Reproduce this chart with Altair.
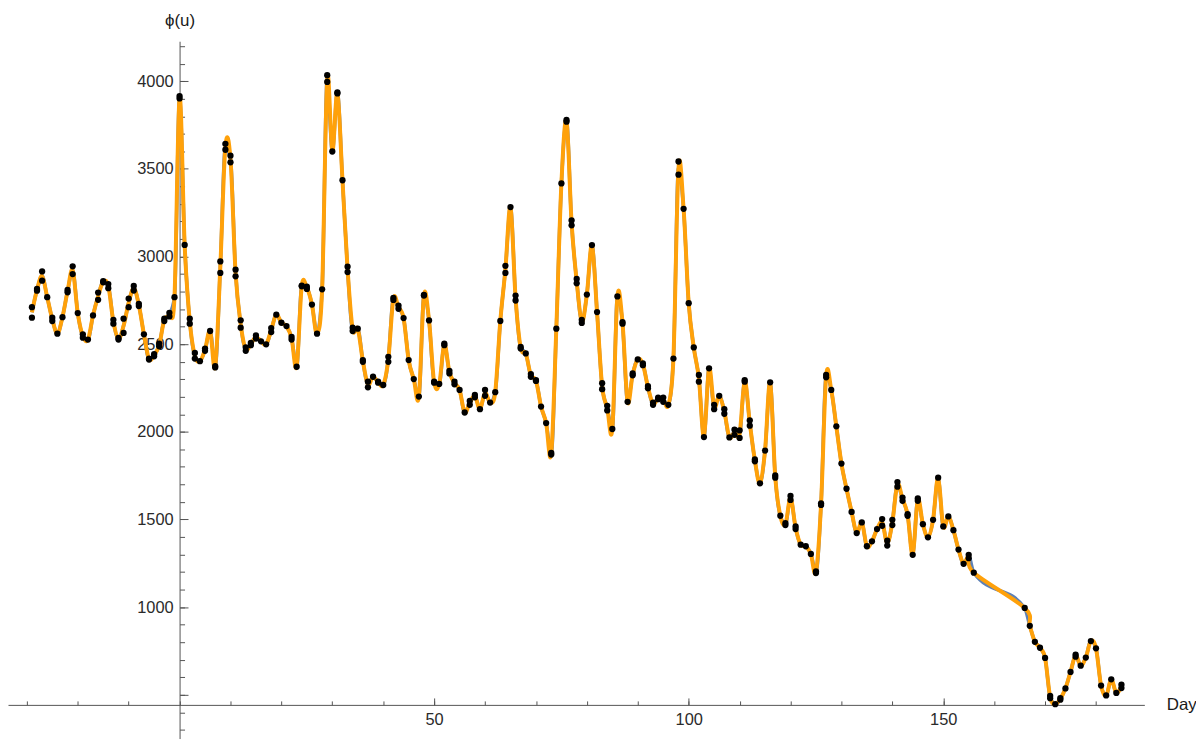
import altair as alt
import pandas as pd

day_list = [
    -29, -29, -28, -28, -27, -27, -26, -25, -25, -24, -23, -22, -22, -21, -21, -20,
    -19, -19, -18, -17, -16, -16, -15, -15, -14, -14, -13, -13, -12, -12, -11, -11,
    -10, -10, -9, -9, -8, -8, -7, -6, -6, -5, -5, -4, -4, -3, -3, -2, -2, -1,
    0, 0, 1, 2, 2, 3, 3, 4, 5, 5, 6, 7, 7, 8, 8, 9, 9, 10, 10, 11, 11, 12, 12,
    13, 13, 14, 14, 15, 15, 16, 17, 18, 18, 19, 20, 21, 22, 22, 23, 24, 24, 25, 25,
    26, 27, 28, 29, 29, 30, 31, 31, 32, 33, 33, 34, 34, 35, 36, 36, 37, 37, 38,
    39, 39, 40, 41, 41, 42, 42, 43, 43, 44, 45, 46, 47, 48, 48, 49, 50, 50, 51,
    52, 52, 53, 53, 54, 54, 55, 56, 57, 57, 58, 58, 59, 60, 60, 61, 62, 63, 64, 64,
    65, 66, 66, 67, 67, 68, 69, 69, 70, 70, 71, 72, 73, 73, 74, 75, 76, 76, 77, 77,
    78, 78, 79, 79, 80, 81, 82, 83, 83, 84, 84, 85, 86, 87, 87, 88, 89, 89, 90,
    91, 91, 92, 92, 93, 93, 94, 94, 95, 95, 96, 97, 98, 98, 99, 100, 101, 102, 102,
    103, 104, 105, 105, 106, 107, 107, 108, 109, 109, 110, 110, 111, 111, 112, 112,
    113, 113, 114, 115, 116, 117, 117, 118, 119, 119, 120, 120, 121, 121, 122, 123,
    124, 125, 125, 126, 126, 127, 127, 128, 129, 130, 131, 132, 133, 134, 135, 136,
    137, 138, 138, 139, 139, 140, 140, 141, 141, 142, 142, 143, 143, 144, 145, 145,
    146, 147, 148, 149, 150, 151, 152, 153, 154, 155, 155, 156,
    166, 167, 168, 169, 170, 171, 171, 172, 173, 173, 174, 175, 176, 176, 177, 178,
    179, 180, 181, 182, 183, 184, 185, 185,
]
value_list = [
    2711, 2651, 2805, 2815, 2915, 2862, 2768, 2651, 2632, 2560, 2654, 2796, 2809, 2900, 2944, 2677,
    2556, 2537, 2526, 2664, 2753, 2794, 2859, 2853, 2843, 2819, 2639, 2617, 2526, 2535, 2564, 2645,
    2711, 2760, 2832, 2806, 2730, 2717, 2556, 2418, 2412, 2443, 2431, 2488, 2503, 2632, 2645, 2679, 2658, 2768,
    3915, 3902, 3066, 2645, 2617, 2450, 2418, 2403, 2462, 2475, 2575, 2367, 2375, 2906, 2972, 3609, 3643, 3575, 3537, 2925, 2887, 2636, 2594,
    2462, 2481, 2494, 2507, 2550, 2532, 2516, 2499, 2569, 2592, 2668, 2622, 2603, 2541, 2526, 2371, 2834, 2830, 2828, 2815,
    2726, 2560, 2813, 4034, 3996, 3599, 3936, 3930, 3435, 2942, 2911, 2594, 2575, 2588, 2409, 2399, 2286, 2254, 2314,
    2286, 2280, 2267, 2399, 2428, 2764, 2752, 2720, 2702, 2649, 2409, 2301, 2201, 2777, 2781, 2635, 2286, 2280, 2273,
    2503, 2494, 2348, 2333, 2286, 2271, 2239, 2110, 2176, 2154, 2210, 2197, 2129, 2239, 2205, 2167, 2226, 2632, 2947, 2906,
    3282, 2777, 2749, 2484, 2475, 2447, 2329, 2314, 2295, 2290, 2144, 2050, 1880, 1870, 2588, 3417, 3779, 3769, 3206, 3178,
    2872, 2847, 2639, 2621, 2783, 3065, 2683, 2277, 2243, 2148, 2122, 2016, 2772, 2626, 2617, 2171, 2333, 2322, 2413,
    2390, 2380, 2261, 2248, 2167, 2154, 2195, 2186, 2195, 2171, 2154, 2418, 3542, 3467, 3272, 2734, 2481, 2324, 2286,
    1970, 2362, 2154, 2129, 2205, 2129, 2103, 1968, 2012, 1983, 2008, 1965, 2295, 2286, 2065, 2035,
    1842, 1832, 1706, 1893, 2282, 1751, 1738, 1521, 1479, 1468, 1634, 1611, 1460, 1445, 1356, 1347,
    1303, 1203, 1194, 1592, 1583, 2324, 2311, 2239, 2031, 1819, 1675, 1543, 1422, 1483, 1347, 1375,
    1445, 1502, 1464, 1379, 1351, 1498, 1468, 1713, 1687, 1625, 1606, 1530, 1521, 1298, 1620, 1606,
    1473, 1398, 1498, 1738, 1460, 1517, 1439, 1328, 1247, 1298, 1279, 1196,
    995, 893, 802, 768, 710, 494, 480, 446, 472, 481, 536, 630, 729, 717, 666, 712,
    806, 765, 552, 496, 588, 510, 557, 538,
]

x_minor_ticks = list(range(-30, 181, 10))
x_major_ticks = [50, 100, 150]
y_minor_ticks = list(range(300, 4201, 100))
y_major_ticks = list(range(500, 4001, 500))
y_label_ticks = list(range(1000, 4001, 500))

df = pd.DataFrame({"day": day_list, "value": value_list})

FONT = "Liberation Sans"
AX = "#555555"
BLUE = "#5E81B5"
ORANGE = "#FFA10A"

X_DOMAIN = [-33.7, 189.5]
Y_DOMAIN = [250, 4228]
W, H = 1144, 702
# pixel positions of the crossing axes inside the plot area
X0_PX = (0 - X_DOMAIN[0]) / (X_DOMAIN[1] - X_DOMAIN[0]) * W      # y-axis position (day 0)
Y_AX_PX = (Y_DOMAIN[1] - 442) / (Y_DOMAIN[1] - Y_DOMAIN[0]) * H  # x-axis position (phi = 442)

xs = alt.Scale(domain=X_DOMAIN, nice=False, zero=False)
ys = alt.Scale(domain=Y_DOMAIN, nice=False, zero=False)

common = dict(grid=False, domainColor=AX, tickColor=AX, domainWidth=1, tickWidth=1,
              labelFont=FONT, labelFontSize=16.5, labelColor="#2a2a2a", format="d",
              titleFont=FONT, titleFontSize=17, titleColor="#1a1a1a",
              titleFontWeight="normal", labelOverlap=False)

base = alt.Chart(df)

blue = base.mark_line(interpolate="monotone", color=BLUE, strokeWidth=3.5).encode(
    x=alt.X("day:Q", scale=xs, axis=alt.Axis(orient="top", offset=-Y_AX_PX, values=x_minor_ticks,
                                             tickSize=4, labels=False, title=None, **common)),
    y=alt.Y("mean(value):Q", scale=ys, axis=alt.Axis(orient="right", offset=X0_PX - W,
                                                     values=y_minor_ticks, tickSize=5,
                                                     labels=False, title=None, **common)),
)

orange = base.mark_line(interpolate="cardinal", tension=0, color=ORANGE, strokeWidth=4).encode(
    x=alt.X("day:Q", scale=xs, axis=alt.Axis(orient="top", offset=-Y_AX_PX, values=x_major_ticks,
                                             tickSize=7, labels=False, domain=False, title=None, **common)),
    y=alt.Y("mean(value):Q", scale=ys, axis=alt.Axis(orient="right", offset=X0_PX - W,
                                                     values=y_major_ticks, tickSize=8.5, domain=False,
                                                     labels=False, title=None, **common)),
)

points = base.mark_circle(size=40, color="black", opacity=1).encode(
    x=alt.X("day:Q", scale=xs, axis=alt.Axis(orient="bottom", offset=Y_AX_PX - H, values=x_major_ticks,
                                             ticks=False, tickSize=0, domain=False, labelPadding=7,
                                             title="Day", titleX=1166, titleY=0, titleAlign="left",
                                             titleBaseline="middle", **common)),
    y=alt.Y("value:Q", scale=ys, axis=alt.Axis(orient="left", offset=-X0_PX, values=y_label_ticks,
                                               ticks=False, tickSize=0, domain=False, labelPadding=6.5,
                                               title="ϕ(u)", titleAngle=0, titleX=0, titleY=-21,
                                               titleAlign="center", titleBaseline="middle", **common)),
)

chart = alt.layer(blue, orange, points).resolve_axis(x="independent", y="independent").properties(
    width=W, height=H,
    autosize=alt.AutoSizeParams(type="none"),
    padding={"left": 0, "top": 31, "right": 52, "bottom": 0},
).configure_view(stroke=None)

chart.save("out.html", embed_options={"renderer": "svg", "actions": False})
